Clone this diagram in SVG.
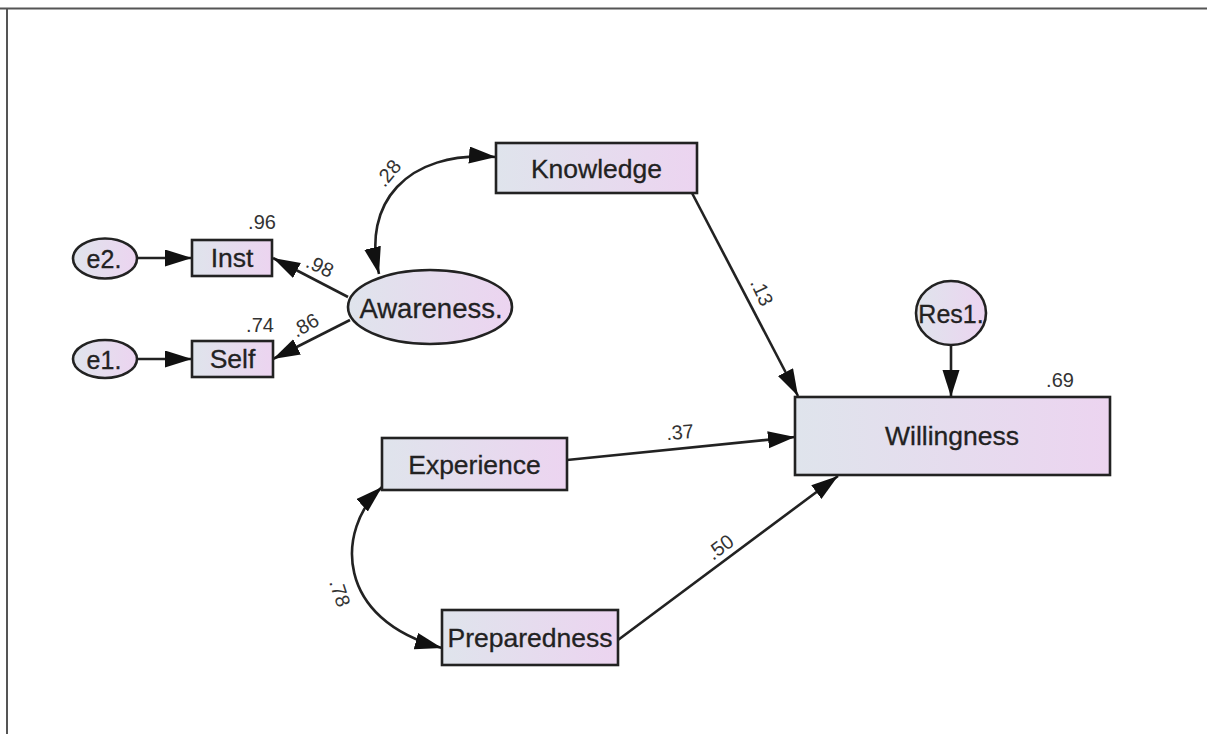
<svg xmlns="http://www.w3.org/2000/svg" width="1207" height="734" viewBox="0 0 1207 734">
<style>
.nd{stroke:#222;stroke-width:2.6;fill:url(#g)}
.lb{font-family:"Liberation Sans",Arial,sans-serif;font-size:26.5px;fill:#222;text-anchor:middle;dominant-baseline:central;stroke:#222;stroke-width:0.3}
.sm{font-family:"Liberation Sans",Arial,sans-serif;font-size:20px;fill:#333;text-anchor:middle;dominant-baseline:central}
.ln{stroke:#222;stroke-width:2.6;fill:none}
</style>
<defs>
<linearGradient id="g" x1="0" y1="0" x2="1" y2="0">
<stop offset="0" stop-color="#dfe4ec"/>
<stop offset="1" stop-color="#ecd4f0"/>
</linearGradient>
<marker id="a" markerUnits="userSpaceOnUse" markerWidth="30" markerHeight="18" refX="27" refY="8.5" orient="auto-start-reverse">
<path d="M0,0 L27,8.5 L0,17 z" fill="#111"/>
</marker>
</defs>
<rect width="1207" height="734" fill="#fff"/>
<path d="M0,8.5 H1207 M7,8.5 V734" stroke="#555" stroke-width="2" fill="none"/>
<g id="connectors">
<path class="ln" d="M137,258 L192,258" marker-end="url(#a)"/>
<path class="ln" d="M137,359 L192,359" marker-end="url(#a)"/>
<path class="ln" d="M348,297 L273,258" marker-end="url(#a)"/>
<path class="ln" d="M350,320 L273,359" marker-end="url(#a)"/>
<path class="ln" d="M379,274 C362,205 405,150 496,157" marker-start="url(#a)" marker-end="url(#a)"/>
<path class="ln" d="M382,487 C335,530 335,620 442,648" marker-start="url(#a)" marker-end="url(#a)"/>
<path class="ln" d="M692,193 L798,396" marker-end="url(#a)"/>
<path class="ln" d="M951,345 L951,397" marker-end="url(#a)"/>
<path class="ln" d="M567,460 L795,437" marker-end="url(#a)"/>
<path class="ln" d="M618,640 L838,476" marker-end="url(#a)"/>
</g>
<g id="labels">
<text class="sm" transform="translate(388,173) rotate(-50)">.28</text>
<text class="sm" x="262" y="222">.96</text>
<text class="sm" transform="translate(320,266) rotate(25)">.98</text>
<text class="sm" x="260" y="325">.74</text>
<text class="sm" transform="translate(305,325) rotate(-30)">.86</text>
<text class="sm" transform="translate(762,292) rotate(65)">.13</text>
<text class="sm" x="1060" y="380">.69</text>
<text class="sm" transform="translate(680,432) rotate(-5)">.37</text>
<text class="sm" transform="translate(720,547) rotate(-37)">.50</text>
<text class="sm" transform="translate(340,593) rotate(72)">.78</text>
</g>
<g id="e2"><ellipse class="nd" cx="105" cy="258.5" rx="32" ry="20"/><text class="lb" x="104" y="259" style="font-size:25px">e2.</text></g>
<g id="e1"><ellipse class="nd" cx="105" cy="359" rx="32" ry="19"/><text class="lb" x="104" y="359.5" style="font-size:25px">e1.</text></g>
<g id="Inst"><rect class="nd" x="192" y="240" width="80" height="36"/><text class="lb" x="232" y="258">Inst</text></g>
<g id="Self"><rect class="nd" x="192" y="341" width="81" height="36"/><text class="lb" x="232.5" y="359">Self</text></g>
<g id="Awareness"><ellipse class="nd" cx="430" cy="307" rx="82" ry="37"/><text class="lb" x="431" y="308" style="font-size:27.5px">Awareness.</text></g>
<g id="Knowledge"><rect class="nd" x="496" y="143" width="201" height="50"/><text class="lb" x="596.5" y="169">Knowledge</text></g>
<g id="Res1"><ellipse class="nd" cx="951" cy="313" rx="35" ry="32"/><text class="lb" x="951" y="314" style="font-size:25px">Res1.</text></g>
<g id="Willingness"><rect class="nd" x="795" y="397" width="315" height="78"/><text class="lb" x="952" y="436">Willingness</text></g>
<g id="Experience"><rect class="nd" x="382" y="438" width="185" height="52"/><text class="lb" x="474.5" y="465">Experience</text></g>
<g id="Preparedness"><rect class="nd" x="442" y="610" width="176" height="55"/><text class="lb" x="530" y="638">Preparedness</text></g>
</svg>
